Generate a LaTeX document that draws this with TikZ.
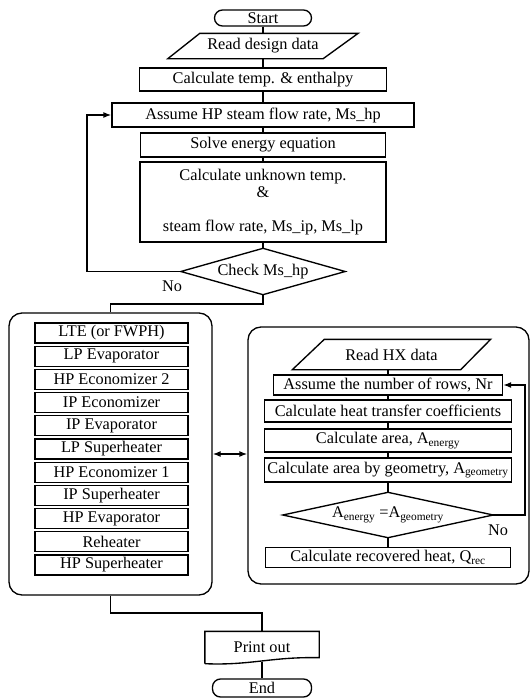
\documentclass[tikz,border=0pt]{standalone}
\usepackage{fontspec}
\setmainfont{Liberation Serif}
\usetikzlibrary{calc,arrows.meta}
\begin{document}
\begin{tikzpicture}[x=1pt,y=-1pt,line width=1.35pt,
  every node/.style={font=\fontsize{16.3}{17}\selectfont,inner sep=0pt},
  pbox/.style={draw,rectangle},
  term/.style={draw,rectangle,rounded corners=8pt},
  grp/.style={draw,rectangle,rounded corners=13pt},
  arr/.style={-{Latex[length=8pt,width=6pt]}},
  darr/.style={{Latex[length=8pt,width=6pt]}-{Latex[length=8pt,width=6pt]}}]
\useasboundingbox (0,0) rectangle (530,699);

% ---------- main column ----------
\node[term,minimum width=97pt,minimum height=16pt] (start) at (263,18) {Start};
\node[minimum width=189pt,minimum height=24pt] (rd) at (263,46) {Read design data};
\draw ($(rd.north west)+(32,0)$) -- (rd.north east) -- ($(rd.south east)-(35,0)$) -- (rd.south west) -- cycle;
\node[pbox,minimum width=247pt,minimum height=23pt] (ct) at (263,79.5) {Calculate temp. \& enthalpy};
\node[pbox,minimum width=302pt,minimum height=24pt] (as) at (263,115) {Assume HP steam flow rate, Ms\_hp};
\node[pbox,minimum width=245pt,minimum height=24pt] (se) at (263,145) {Solve energy equation};
\node[pbox,minimum width=246pt,minimum height=80pt,align=center] (cu) at (263,202)
  {Calculate unknown temp.\\\&\\[17pt]steam flow rate, Ms\_ip, Ms\_lp};
\node[minimum width=163pt,minimum height=45pt] (chk) at (263,271.5) {Check Ms\_hp};
\draw (chk.west) -- (chk.north) -- (chk.east) -- (chk.south) -- cycle;
\node (no1) at (172,286) {No};

\draw (start.south) -- (rd.north);
\draw (rd.south) -- (ct.north);
\draw (ct.south) -- (as.north);
\draw (as.south) -- (se.north);
\draw (se.south) -- (cu.north);
\draw (cu.south) -- (chk.north);

\coordinate (lp) at (87,271.5);
\draw[arr] (chk.west) -- (lp) |- (as.west);

% ---------- left group ----------
\node[grp,minimum width=203pt,minimum height=282pt] (lb) at (110.5,454) {};
\coordinate (j1) at (263,304);
\draw (chk.south) -- (j1) -| (lb.north);
\foreach \t [count=\i from 0] in {LTE (or FWPH),LP Evaporator,HP Economizer 2,IP Economizer,IP Evaporator,LP Superheater,HP Economizer 1,IP Superheater,HP Evaporator,Reheater,HP Superheater}
  \node[pbox,minimum width=153pt,minimum height=20pt] (c\i) at (111.5,{333+23.2*\i}) {\t};

% ---------- right group ----------
\node[grp,minimum width=281pt,minimum height=257pt] (rb) at (388.5,455.5) {};
\draw[darr] (lb.east) -- (lb.east -| rb.west);

\node[minimum width=197pt,minimum height=29pt] (rh) at (391.5,354.5) {Read HX data};
\draw ($(rh.north west)+(32,0)$) -- (rh.north east) -- ($(rh.south east)-(30,0)$) -- (rh.south west) -- cycle;
\node[pbox,minimum width=229pt,minimum height=20pt] (ar) at (388,385) {Assume the number of rows, Nr};
\node[pbox,minimum width=247pt,minimum height=22pt] (ht) at (388,411) {Calculate heat transfer coefficients};
\node[pbox,minimum width=247pt,minimum height=23pt] (ca) at (388,440.5) {Calculate area, A\textsubscript{energy}};
\node[pbox,minimum width=247pt,minimum height=24pt] (cg) at (388,470) {Calculate area by geometry, A\textsubscript{geometry}};
\node[minimum width=209pt,minimum height=44pt] (eq) at (388,515) {A\textsubscript{energy} =A\textsubscript{geometry}};
\draw (eq.west) -- (eq.north) -- (eq.east) -- (eq.south) -- cycle;
\node (no2) at (498,530) {No};
\node[pbox,minimum width=245pt,minimum height=20pt] (rr) at (388,557.5) {Calculate recovered heat, Q\textsubscript{rec}};

\draw (rh.south -| ar.north) -- (ar.north);
\draw (ar.south) -- (ht.north);
\draw (ht.south) -- (ca.north);
\draw (ca.south) -- (cg.north);
\draw (cg.south) -- (eq.north);
\draw (eq.south) -- (rr.north);
\coordinate (fb1) at (525,515);
\coordinate (fb2) at (525,385);
\draw[arr] (eq.east) -- (fb1) -- (fb2) -- (ar.east);

% ---------- bottom ----------
\node[minimum width=113pt,minimum height=31pt] (po) at (262,647.5) {Print out};
\draw ($(po.south west)$) -- (po.north west) -- (po.north east) -- ($(po.south east)+(0,-6)$)
  .. controls ($(po.south east)+(-48,-7)$) and ($(po.south west)+(45,2)$) .. (po.south west);
\node[term,minimum width=99pt,minimum height=18pt] (end) at (262,688) {End};
\coordinate (j2) at (110.5,613);
\draw (lb.south) -- (j2) -| (po.north);
\draw ($(po.south)+(0,-2)$) -- (end.north);
\end{tikzpicture}
\end{document}
